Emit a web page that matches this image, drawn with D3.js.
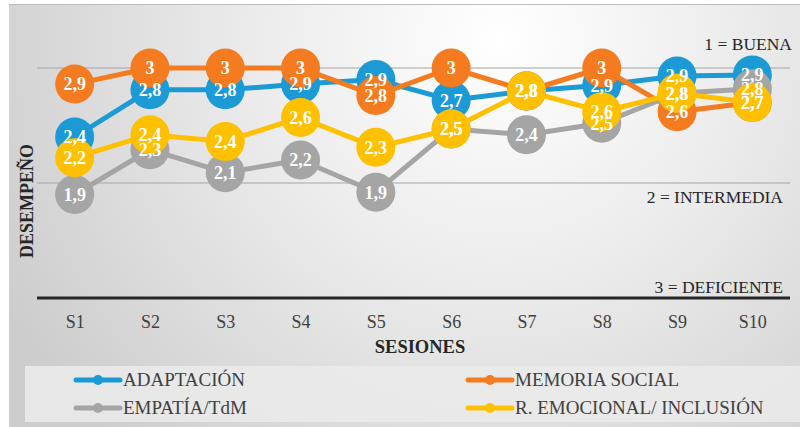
<!DOCTYPE html>
<html><head><meta charset="utf-8">
<script src="https://cdn.jsdelivr.net/npm/d3@7/dist/d3.min.js"></script>
<style>body{margin:0;background:#fff}svg{display:block}</style>
</head><body>
<script>
const sessions = ["S1","S2","S3","S4","S5","S6","S7","S8","S9","S10"];
const seriesNames = ["ADAPTACIÓN","MEMORIA SOCIAL","EMPATÍA/TdM","R. EMOCIONAL/ INCLUSIÓN"];
// values (labels show them rounded to one decimal)
const adaptacion = [2.40,2.81,2.81,2.86,2.90,2.72,2.80,2.85,2.93,2.94];
const memoria    = [2.86,3.00,3.00,3.00,2.76,3.00,2.80,3.00,2.62,2.70];
const empatia    = [1.90,2.29,2.09,2.20,1.92,2.47,2.42,2.52,2.78,2.82];
const emocional  = [2.22,2.42,2.36,2.57,2.31,2.47,2.80,2.62,2.78,2.70];
const colors = ["#1b9ad6","#f47b20","#a5a5a5","#ffc000"];
const gridValues = [1,2,3];
const levelLabels = ["3 = DEFICIENTE","2 = INTERMEDIA","1 = BUENA"];

const series = [adaptacion, memoria, empatia, emocional].map((v,i)=>({name:seriesNames[i], values:v, color:colors[i]}));
const FONT = "'Liberation Serif','Times New Roman',serif";
const fmt = d => d3.format(".2~r")(d).replace(".",",");

const W=800,H=427;
const svg=d3.select("body").append("svg").attr("width",W).attr("height",H);
const defs=svg.append("defs");
const rg=defs.append("radialGradient").attr("id","bg").attr("gradientUnits","userSpaceOnUse")
  .attr("cx",500).attr("cy",40).attr("r",560);
rg.append("stop").attr("offset",0).attr("stop-color","#ffffff");
rg.append("stop").attr("offset",0.45).attr("stop-color","#ebebeb");
rg.append("stop").attr("offset",1).attr("stop-color","#cdcdcd");

svg.append("rect").attr("x",9).attr("y",4).attr("width",W-9).attr("height",H-4).attr("fill","url(#bg)");
svg.append("line").attr("x1",9).attr("x2",W).attr("y1",4.5).attr("y2",4.5).attr("stroke","#bdbdbd").attr("stroke-width",1);

const x=d3.scalePoint().domain(sessions).range([37,790]).padding(0.5);
const y=d3.scaleLinear().domain([1,3]).range([298,68]);

svg.append("g").selectAll("line").data(gridValues.filter(d=>d>1)).join("line")
  .attr("x1",37).attr("x2",790).attr("y1",d=>y(d)).attr("y2",d=>y(d))
  .attr("stroke","#a6a6a6").attr("stroke-width",1.2);

const xAxis=svg.append("g").attr("transform",`translate(0,${y(1)})`)
  .call(d3.axisBottom(x).tickSize(0).tickPadding(17));
xAxis.attr("font-family",FONT).attr("font-size",18);
xAxis.select(".domain").attr("d","M37,0H790").attr("stroke","#262626").attr("stroke-width",3);
xAxis.selectAll("text").attr("fill","#404040");

const lvlOff = {1:[783,-5],2:[783,20],3:[792,-18]};
svg.append("g").selectAll("text").data(gridValues).join("text")
  .attr("x",d=>lvlOff[d][0]).attr("y",d=>y(d)+lvlOff[d][1])
  .attr("text-anchor","end").attr("font-family",FONT).attr("font-size",17.5).attr("fill","#262626")
  .text((d,i)=>levelLabels[i]);

svg.append("text").attr("transform","translate(33,201) rotate(-90)").attr("text-anchor","middle")
  .attr("font-family",FONT).attr("font-weight","bold").attr("font-size",18).attr("fill","#262626").text("DESEMPEÑO");
svg.append("text").attr("x",420).attr("y",353).attr("text-anchor","middle")
  .attr("font-family",FONT).attr("font-weight","bold").attr("font-size",18.5).attr("fill","#262626").text("SESIONES");

const line=d3.line().x((d,i)=>x(sessions[i])).y(d=>y(d));
series.forEach(s=>{
  const g=svg.append("g");
  g.append("path").attr("d",line(s.values)).attr("fill","none").attr("stroke",s.color).attr("stroke-width",5).attr("stroke-linejoin","round");
  g.selectAll("circle").data(s.values).join("circle")
    .attr("cx",(d,i)=>x(sessions[i])).attr("cy",d=>y(d)).attr("r",19.5).attr("fill",s.color);
});
series.forEach(s=>{
  svg.append("g").selectAll("text").data(s.values).join("text")
    .attr("x",(d,i)=>x(sessions[i])).attr("y",d=>y(d)).attr("text-anchor","middle").attr("dy","0.35em")
    .attr("font-family",FONT).attr("font-weight","bold").attr("font-size",18).attr("fill","#ffffff")
    .text(fmt);
});

svg.append("rect").attr("x",25).attr("y",366).attr("width",W-25).attr("height",56).attr("fill","#ebebeb").attr("opacity",0.85);
const legPos=[[76,380],[468,380],[76,408],[468,408]];
series.forEach((s,i)=>{
  const [lx,ly]=legPos[i];
  const g=svg.append("g").attr("transform",`translate(${lx},${ly})`);
  g.append("line").attr("x1",0).attr("x2",44).attr("y1",0).attr("y2",0).attr("stroke",s.color).attr("stroke-width",5).attr("stroke-linecap","round");
  g.append("circle").attr("cx",22).attr("cy",0).attr("r",5).attr("fill",s.color);
  g.append("text").attr("x",47).attr("y",6).attr("font-family",FONT).attr("font-size",19).attr("fill","#404040").text(s.name);
});
</script>
</body></html>
